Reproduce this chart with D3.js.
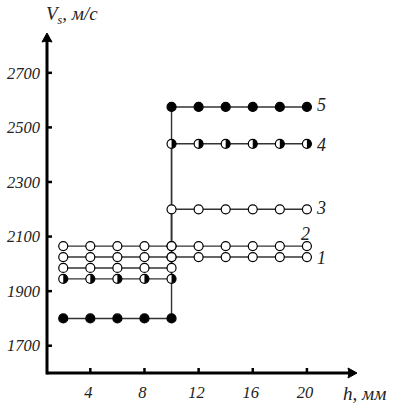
<!DOCTYPE html>
<html>
<head>
<meta charset="utf-8">
<script src="https://cdn.jsdelivr.net/npm/d3@7"></script>
<style>
  body { margin: 0; background: #fff; }
  text { font-family: "Liberation Serif", "DejaVu Serif", serif; font-style: italic; fill: #222; }
</style>
</head>
<body>
<div id="chart"></div>
<script>
// thickness h, mm (points before and after the jump at 10 mm)
var hBefore = [2, 4, 6, 8, 10];
var hAfter = [10, 12, 14, 16, 18, 20];
// Vs, m/s for curves 1..5
var seriesNames = ['1', '2', '3', '4', '5'];
var vBefore = [2025, 2065, 1985, 1945, 1800];
var vAfter = [2025, 2065, 2200, 2440, 2575];
var xTicks = [4, 8, 12, 16, 20];
var yTicks = [1700, 1900, 2100, 2300, 2500, 2700];

var w = 397, h = 407;
var markerStyle = { '1': 'open', '2': 'open', '3': 'open', '4': 'half', '5': 'full' };
var labelOffset = { '1': [10, 1], '2': [-6, -12], '3': [10, -2], '4': [10, 1], '5': [10, -2] };

var svg = d3.select('#chart').append('svg')
    .attr('width', w)
    .attr('height', h);

var x = d3.scaleLinear().domain([0.8, 23.7]).range([47, 357]);
var y = d3.scaleLinear().domain([1600, 2846]).range([373, 33]);

var series = seriesNames.map(function(name, i) {
    var pts = hBefore.map(function(d) { return { h: d, v: vBefore[i] }; })
        .concat(hAfter.map(function(d) { return { h: d, v: vAfter[i] }; }));
    return { name: name, points: pts };
});

var line = d3.line()
    .x(function(d) { return x(d.h); })
    .y(function(d) { return y(d.v); });

// lines
svg.append('g').selectAll('path')
    .data(series)
    .enter()
    .append('path')
    .attr('d', function(d) { return line(d.points); })
    .attr('fill', 'none')
    .attr('stroke', '#333')
    .attr('stroke-width', 1.4);

// markers
var r = 4.5;
series.forEach(function(s) {
    var g = svg.append('g');
    var style = markerStyle[s.name];
    var m = g.selectAll('g')
        .data(s.points)
        .enter()
        .append('g')
        .attr('transform', function(d) { return 'translate(' + x(d.h) + ',' + y(d.v) + ')'; });
    m.append('circle')
        .attr('r', r)
        .attr('fill', style === 'full' ? '#000' : '#fff')
        .attr('stroke', '#000')
        .attr('stroke-width', 1.2);
    if (style === 'half') {
        m.append('path')
            .attr('d', d3.arc().innerRadius(0).outerRadius(r)({ startAngle: 0, endAngle: Math.PI }))
            .attr('fill', '#000');
    }
});

// series labels
svg.append('g').selectAll('text')
    .data(series)
    .enter()
    .append('text')
    .attr('x', function(d) { return x(20) + labelOffset[d.name][0]; })
    .attr('y', function(d) { return y(d.points[d.points.length - 1].v) + labelOffset[d.name][1]; })
    .attr('dy', '0.35em')
    .attr('font-size', 18)
    .text(function(d) { return d.name; });

// axes
var axis = svg.append('g');
axis.append('line')
    .attr('x1', x(0.8)).attr('x2', x(0.8))
    .attr('y1', y(1600) + 1.5).attr('y2', y(2846) + 4)
    .attr('stroke', '#000').attr('stroke-width', 3);
axis.append('line')
    .attr('x1', x(0.8)).attr('x2', x(23.7) - 6)
    .attr('y1', y(1600)).attr('y2', y(1600))
    .attr('stroke', '#000').attr('stroke-width', 3);
// arrow heads
axis.append('path')
    .attr('d', 'M' + x(23.7) + ',' + y(1600) + ' l-9,-5 q2,5 0,10 z')
    .attr('fill', '#000').attr('stroke', '#000').attr('stroke-linejoin', 'round');
axis.append('path')
    .attr('d', 'M' + x(0.8) + ',' + y(2846) + ' l-5,9 q5,-2 10,0 z')
    .attr('fill', '#000').attr('stroke', '#000').attr('stroke-linejoin', 'round');

axis.selectAll('.ytick')
    .data(yTicks)
    .enter()
    .append('line')
    .attr('x1', x(0.8)).attr('x2', x(0.8) + 5)
    .attr('y1', function(d) { return y(d); })
    .attr('y2', function(d) { return y(d); })
    .attr('stroke', '#000').attr('stroke-width', 2.5);
axis.selectAll('.ylab')
    .data(yTicks)
    .enter()
    .append('text')
    .attr('x', 40)
    .attr('y', function(d) { return y(d); })
    .attr('dy', '0.35em')
    .attr('text-anchor', 'end')
    .attr('font-size', 16.5)
    .text(function(d) { return d; });

axis.selectAll('.xtick')
    .data(xTicks)
    .enter()
    .append('line')
    .attr('x1', function(d) { return x(d); })
    .attr('x2', function(d) { return x(d); })
    .attr('y1', y(1600)).attr('y2', y(1600) - 5)
    .attr('stroke', '#000').attr('stroke-width', 2.5);
axis.selectAll('.xlab')
    .data(xTicks)
    .enter()
    .append('text')
    .attr('x', function(d) { return x(d) - 2; })
    .attr('y', 392)
    .attr('dy', '0.35em')
    .attr('text-anchor', 'middle')
    .attr('font-size', 16.5)
    .text(function(d) { return d; });

// axis titles
var yt = svg.append('text')
    .attr('x', 46).attr('y', 13)
    .attr('dy', '0.35em')
    .attr('font-size', 19);
yt.append('tspan').text('V');
yt.append('tspan').attr('font-size', 12).attr('dy', 4).text('s');
yt.append('tspan').attr('dy', -4).text(', м/с');

svg.append('text')
    .attr('x', 343).attr('y', 393)
    .attr('dy', '0.35em')
    .attr('font-size', 19)
    .text('h, мм');
</script>
</body>
</html>
